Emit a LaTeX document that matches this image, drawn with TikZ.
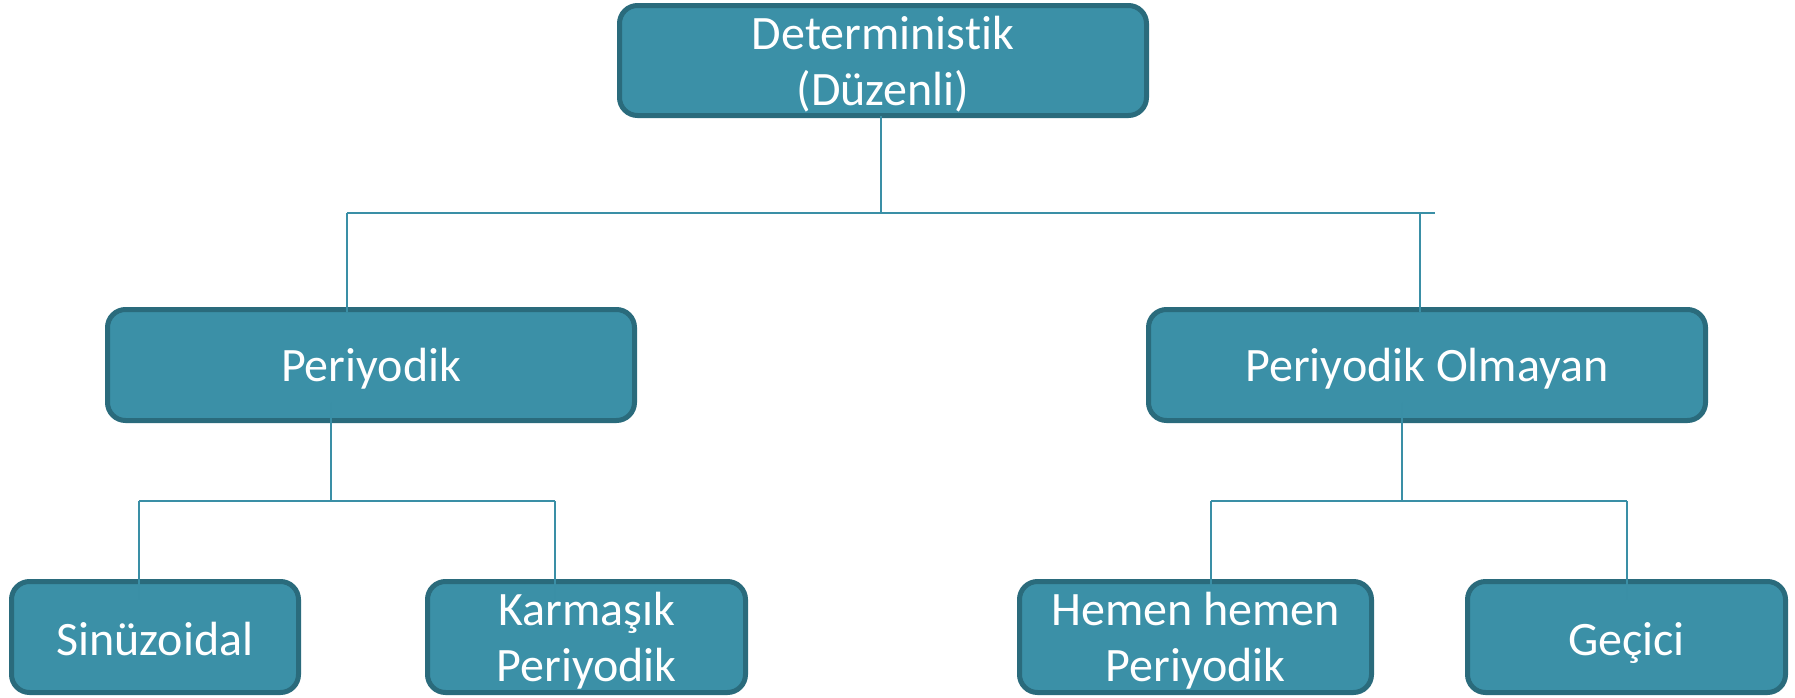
\documentclass[tikz,border=0pt]{standalone}
\usepackage{fontspec}
\setmainfont{Carlito}[Ligatures={NoCommon,NoRare,NoContextual}]
\usetikzlibrary{calc}
\definecolor{boxfill}{RGB}{59,144,167}
\definecolor{boxline}{RGB}{42,107,124}
\definecolor{connline}{RGB}{58,143,166}
\begin{document}
\begin{tikzpicture}[x=0.5pt,y=-0.5pt,
  box/.style={draw=boxline, fill=boxfill, line width=2.5pt, rounded corners=9pt, inner sep=0pt, outer sep=0pt, minimum height=55.5pt},
  lbl/.style={text=white, font=\fontsize{24}{28}\selectfont, align=center, inner sep=0pt},
  conn/.style={draw=connline, line width=1pt}]
\useasboundingbox (0,0) rectangle (1795,697);
% boxes
\node[box, minimum width=263.5pt, minimum height=55pt] (top) at (883,60.5) {};
\node[box, minimum width=263.5pt] (per) at (371,365) {};
\node[box, minimum width=278.5pt] (npr) at (1427,365) {};
\node[box, minimum width=143.5pt] (sin) at (155,637) {};
\node[box, minimum width=159pt] (kar) at (586.5,637) {};
\node[box, minimum width=176pt] (hem) at (1195.5,637) {};
\node[box, minimum width=159pt] (gec) at (1626.5,637) {};
% junction coordinates
\coordinate (j1) at (881,213);
\coordinate (h1L) at (347,213);
\coordinate (h1R) at (1435,213);
\coordinate (j2r) at (1420,213);
\coordinate (j3) at (331,501);
\coordinate (j3L) at (139,501);
\coordinate (j3R) at (555,501);
\coordinate (j4) at (1402,501);
\coordinate (j4L) at (1211,501);
\coordinate (j4R) at (1627,501);
% connectors
\draw[conn] (top.south -| j1) -- (j1);
\draw[conn] (h1L) -- (h1R);
\draw[conn] (h1L) -- ($(h1L |- per.north)+(0,2)$);
\draw[conn] (j2r) -- ($(j2r |- npr.north)+(0,2)$);
\draw[conn] ($(j3 |- per.south)+(0,-18)$) -- (j3);
\draw[conn] (j3L) -- (j3R);
\draw[conn] (j3L) -- ($(j3L |- sin.north)+(0,18)$);
\draw[conn] (j3R) -- ($(j3R |- kar.north)+(0,18)$);
\draw[conn] ($(j4 |- npr.south)+(0,-18)$) -- (j4);
\draw[conn] (j4L) -- (j4R);
\draw[conn] (j4L) -- ($(j4L |- hem.north)+(0,18)$);
\draw[conn] (j4R) -- ($(j4R |- gec.north)+(0,18)$);
% labels
\node[lbl] (topT) at (883,64.5) {Deterministik\\(Düzenli)};
\node[lbl, anchor=base] (perT) at (371,381) {Periyodik};
\node[lbl, anchor=base] (nprT) at (1427,381) {Periyodik Olmayan};
\node[lbl, anchor=base] (sinT) at (155,655) {Sinüzoidal};
\node[lbl] (karT) at (586.5,641) {Karmaşık\\Periyodik};
\node[lbl] (hemT) at (1195.5,641) {Hemen hemen\\Periyodik};
\node[lbl, anchor=base] (gecT) at (1626.5,655) {Geçici};
\end{tikzpicture}
\end{document}
